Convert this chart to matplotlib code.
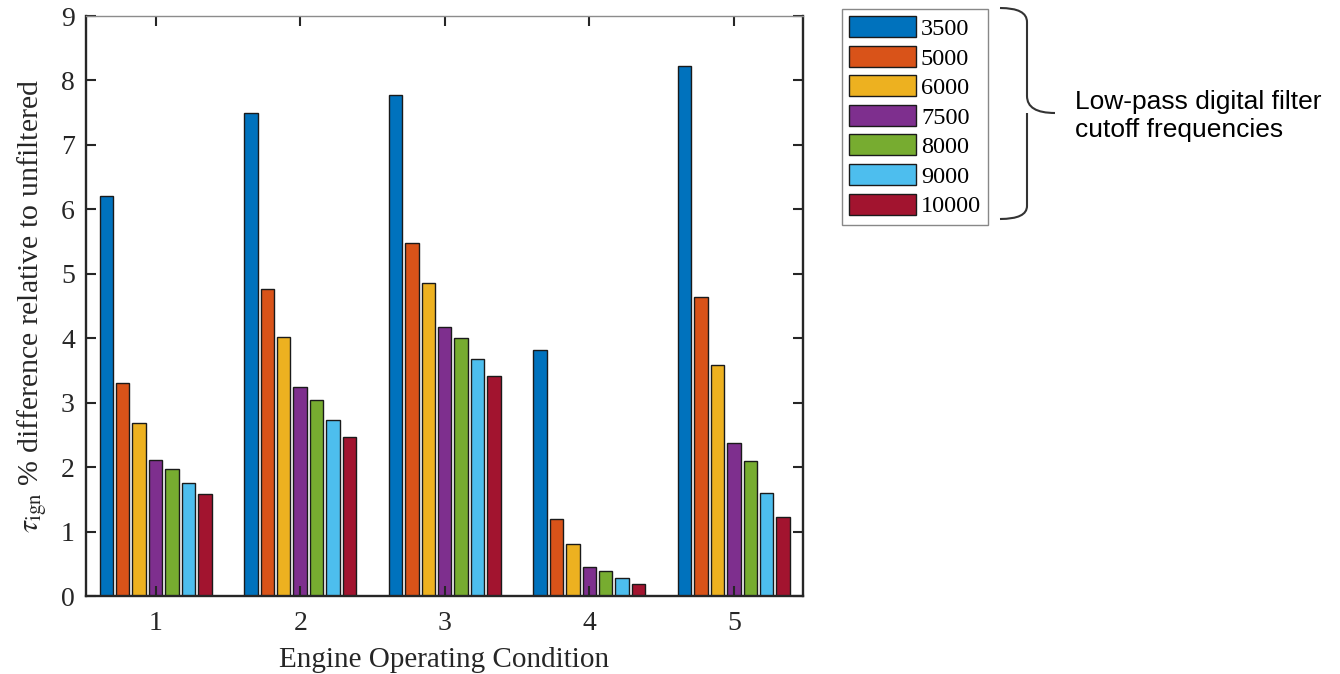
import matplotlib
matplotlib.use("Agg")
import matplotlib.pyplot as plt
import numpy as np
from matplotlib.path import Path
import matplotlib.patches as mpatches

plt.rcParams['font.family'] = ['Liberation Serif', 'DejaVu Serif']
plt.rcParams['mathtext.fontset'] = 'stix'

conditions = [1, 2, 3, 4, 5]
cutoffs = ['3500', '5000', '6000', '7500', '8000', '9000', '10000']
colors = ['#0072BD', '#D95319', '#EDB120', '#7E2F8E', '#77AC30', '#4DBEEE', '#A2142F']

# % difference per cutoff for each operating condition
f3500 = [6.20, 7.50, 7.77, 3.82, 8.23]
f5000 = [3.31, 4.77, 5.47, 1.20, 4.64]
f6000 = [2.69, 4.02, 4.85, 0.80, 3.58]
f7500 = [2.11, 3.24, 4.17, 0.45, 2.38]
f8000 = [1.97, 3.04, 4.00, 0.39, 2.09]
f9000 = [1.75, 2.73, 3.68, 0.28, 1.60]
f10000 = [1.58, 2.47, 3.42, 0.19, 1.23]
series = [f3500, f5000, f6000, f7500, f8000, f9000, f10000]

fig = plt.figure(figsize=(13.4, 6.74), dpi=100)
ax = fig.add_axes([86 / 1340, 1 - 596 / 674, (802.5 - 86) / 1340, (596 - 16) / 674])

x = np.array(conditions, dtype=float)
pitch = 0.1138
width = 0.093
for i, vals in enumerate(series):
    ax.bar(x + (i - 3) * pitch, vals, width=width, color=colors[i],
           edgecolor='#1a1a1a', linewidth=1.0, label=cutoffs[i])

ax.set_xlim(0.518, 5.475)
ax.set_ylim(0, 9)
ax.set_xticks(conditions)
ax.set_yticks(range(0, 10))
ax.tick_params(direction='in', length=7, width=1.5, top=True, right=True,
               labelsize=20, colors='#262626')
ax.tick_params(axis='y', pad=8)
ax.tick_params(axis='x', pad=11)
for s in ax.spines.values():
    s.set_linewidth(1.7)
    s.set_color('#262626')
ax.spines['top'].set_color('#8c8c8c')
ax.spines['top'].set_linewidth(1.0)
ax.set_xlabel('Engine Operating Condition', fontsize=21, color='#262626', labelpad=8)
ax.set_ylabel(r'$\tau_{\rm ign}$ % difference relative to unfiltered', fontsize=21.5,
              color='#262626', labelpad=9)

leg = fig.legend(loc='upper left', bbox_to_anchor=(842 / 1340, 1 - 9 / 674),
                 fontsize=17.5, handlelength=2.75, handleheight=0.95, labelspacing=0.235,
                 handletextpad=0.2, borderpad=0.3, borderaxespad=0, fancybox=False,
                 framealpha=1)
leg.get_frame().set_edgecolor('#888888')
leg.get_frame().set_linewidth(1.0)

# curly brace in figure pixels
W, H = 1340, 674
def fp(px, py):
    return (px / W, 1 - py / H)

verts = [fp(1000, 8), fp(1027, 8), fp(1027, 22), fp(1027, 35),
         fp(1027, 96), fp(1027, 113), fp(1055, 113),
         fp(1027, 113), fp(1027, 130), fp(1027, 200),
         fp(1027, 206), fp(1027, 219), fp(1000, 219)]
codes = [Path.MOVETO, Path.CURVE3, Path.CURVE3, Path.LINETO,
         Path.LINETO, Path.CURVE3, Path.CURVE3,
         Path.MOVETO, Path.CURVE3, Path.LINETO,
         Path.LINETO, Path.CURVE3, Path.CURVE3]
brace = mpatches.PathPatch(Path(verts, codes), facecolor='none', edgecolor='#333333',
                           linewidth=1.5, transform=fig.transFigure)
fig.patches.append(brace)

fig.text(1075 / W, 1 - 116 / H, 'Low-pass digital filter\ncutoff frequencies',
         fontsize=19, family=['Liberation Sans', 'DejaVu Sans'], va='center', ha='left',
         linespacing=1.2)

fig.savefig('out.png', dpi=100)
